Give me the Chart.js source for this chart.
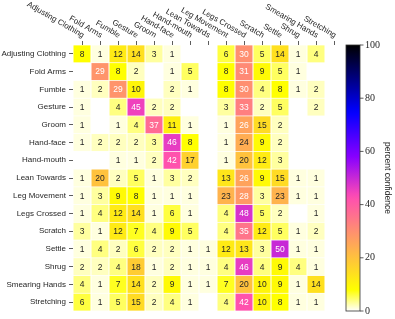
<!DOCTYPE html>
<html>
<head>
<meta charset="utf-8">
<script src="https://cdn.jsdelivr.net/npm/chart.js@4"></script>
<style>
  html, body { margin: 0; padding: 0; background: #fff; }
  #wrap { width: 395px; height: 319px; }
</style>
</head>
<body>
<div id="wrap"><canvas id="cm"></canvas></div>
<script>
// class names (rows = true label, columns = predicted label)
const classes = [
  "Adjusting Clothing", "Fold Arms", "Fumble", "Gesture", "Groom",
  "Hand-face", "Hand-mouth", "Lean Towards", "Leg Movement", "Legs Crossed",
  "Scratch", "Settle", "Shrug", "Smearing Hands", "Stretching",
];

// percent confidence per row, 0 = empty cell
const adjustingClothing = [8, 1, 12, 14, 3, 1, 0, 0, 6, 30, 5, 14, 1, 4, 0];
const foldArms          = [0, 29, 8, 2, 0, 1, 5, 0, 8, 31, 9, 5, 1, 0, 0];
const fumble            = [1, 2, 29, 10, 0, 2, 1, 0, 8, 30, 4, 8, 1, 2, 0];
const gesture           = [1, 0, 4, 45, 2, 2, 0, 0, 3, 33, 2, 5, 0, 2, 0];
const groom             = [1, 0, 1, 4, 37, 11, 1, 0, 1, 26, 15, 2, 0, 0, 0];
const handFace          = [1, 2, 2, 2, 3, 46, 8, 0, 1, 24, 9, 2, 0, 0, 0];
const handMouth         = [0, 0, 1, 1, 2, 42, 17, 0, 1, 20, 12, 3, 0, 0, 0];
const leanTowards       = [1, 20, 2, 5, 1, 3, 2, 0, 13, 26, 9, 15, 1, 1, 0];
const legMovement       = [1, 3, 9, 8, 1, 1, 1, 0, 23, 28, 3, 23, 1, 1, 0];
const legsCrossed       = [1, 4, 12, 14, 1, 6, 1, 0, 4, 48, 5, 2, 0, 1, 0];
const scratch           = [3, 1, 12, 7, 4, 9, 5, 0, 4, 35, 12, 5, 1, 2, 0];
const settle            = [1, 4, 2, 6, 2, 2, 1, 1, 12, 13, 3, 50, 1, 1, 0];
const shrug             = [2, 2, 4, 18, 1, 2, 1, 1, 4, 46, 4, 9, 4, 1, 0];
const smearingHands     = [4, 1, 7, 14, 2, 9, 1, 1, 7, 20, 10, 9, 1, 14, 0];
const stretching        = [6, 1, 5, 15, 2, 4, 1, 0, 4, 42, 10, 8, 1, 1, 0];

const rows = [
  adjustingClothing, foldArms, fumble, gesture, groom, handFace, handMouth,
  leanTowards, legMovement, legsCrossed, scratch, settle, shrug, smearingHands, stretching,
];

const cbTicks = [0, 20, 40, 60, 80, 100];

const labelFont = "Liberation Sans, Arial, sans-serif";
const textDark = "#262626";

// matplotlib gnuplot2, reversed
function cmap(v) {
  const x = 1 - v / 100;
  const clip = (t) => Math.max(0, Math.min(1, t));
  const r = clip(x / 0.32 - 0.78125);
  const g = clip(2 * x - 0.84);
  const b = clip(x < 0.25 ? 4 * x : x < 0.92 ? -2 * x + 1.84 : x / 0.08 - 11.5);
  return `rgb(${Math.round(r * 255)},${Math.round(g * 255)},${Math.round(b * 255)})`;
}

// build cells (category scales want the label strings)
const cells = [];
rows.forEach((row, i) => {
  row.forEach((v, j) => {
    if (v > 0) cells.push({ x: classes[j], y: classes[i], v: v });
  });
});

function cellRadius(c) {
  const a = c.chart.chartArea;
  if (!a) return 8;
  const w = (a.right - a.left) / classes.length;
  return (w - 1) / Math.SQRT2;
}

// numbers inside cells
const cellText = {
  id: "cellText",
  afterDatasetsDraw(chart) {
    const ctx = chart.ctx;
    const meta = chart.getDatasetMeta(0);
    ctx.save();
    ctx.font = "8.5px " + labelFont;
    ctx.textAlign = "center";
    ctx.textBaseline = "middle";
    meta.data.forEach((pt, k) => {
      const v = cells[k].v;
      ctx.fillStyle = v >= 25 ? "#ffffff" : textDark;
      ctx.fillText(String(v), pt.x, pt.y + 0.5);
    });
    ctx.restore();
  },
};

// rotated column labels on top + colorbar
const extras = {
  id: "extras",
  afterDraw(chart) {
    const ctx = chart.ctx;
    const xs = chart.scales.x;
    const area = chart.chartArea;

    ctx.save();
    ctx.font = "8px " + labelFont;
    ctx.fillStyle = textDark;
    ctx.textAlign = "right";
    ctx.textBaseline = "middle";
    classes.forEach((name, i) => {
      const px = xs.getPixelForTick(i);
      ctx.save();
      ctx.translate(px + 1.5, area.top - 9);
      ctx.rotate((30 * Math.PI) / 180);
      ctx.fillText(name, 0, 0);
      ctx.restore();
    });
    ctx.restore();

    // colorbar
    const x0 = 346, x1 = 360;
    const top = area.top, bottom = area.bottom;
    const grad = ctx.createLinearGradient(0, bottom, 0, top);
    for (let s = 0; s <= 100; s += 2) grad.addColorStop(s / 100, cmap(s));
    ctx.save();
    ctx.fillStyle = grad;
    ctx.fillRect(x0, top, x1 - x0, bottom - top);
    ctx.strokeStyle = "#333";
    ctx.lineWidth = 0.8;
    ctx.strokeRect(x0, top, x1 - x0, bottom - top);

    ctx.font = "10px Liberation Serif, serif";
    ctx.fillStyle = textDark;
    ctx.textAlign = "left";
    ctx.textBaseline = "middle";
    cbTicks.forEach((t) => {
      const py = bottom - (t / 100) * (bottom - top);
      ctx.beginPath();
      ctx.moveTo(x1, py);
      ctx.lineTo(x1 + 3.5, py);
      ctx.stroke();
      ctx.fillText(String(t), x1 + 5, py);
    });

    ctx.font = "8.5px " + labelFont;
    ctx.textAlign = "center";
    ctx.translate(387, (top + bottom) / 2);
    ctx.rotate(Math.PI / 2);
    ctx.fillText("percent confidence", 0, 0);
    ctx.restore();
  },
};

const ctx = document.getElementById("cm").getContext("2d");
new Chart(ctx, {
  type: "scatter",
  data: {
    datasets: [
      {
        data: cells,
        pointStyle: "rect",
        borderWidth: 0,
        backgroundColor: (c) => (c.raw ? cmap(c.raw.v) : "#fff"),
        pointRadius: cellRadius,
        pointHoverRadius: cellRadius,
      },
    ],
  },
  options: {
    responsive: true,
    maintainAspectRatio: false,
    animation: false,
    layout: { padding: { left: 0, right: 52, top: 0, bottom: 6 } },
    plugins: {
      legend: { display: false },
      tooltip: { enabled: false },
    },
    scales: {
      x: {
        type: "category",
        labels: classes,
        position: "top",
        offset: true,
        border: { display: false },
        grid: {
          drawOnChartArea: false,
          drawTicks: true,
          tickLength: 4,
          tickColor: "#333",
          tickWidth: 0.8,
        },
        ticks: { display: false },
        afterFit: (s) => { s.height = 45; },
      },
      y: {
        type: "category",
        labels: classes,
        offset: true,
        border: { display: false },
        grid: {
          drawOnChartArea: false,
          drawTicks: true,
          tickLength: 4,
          tickColor: "#333",
          tickWidth: 0.8,
        },
        ticks: {
          color: textDark,
          padding: 3,
          font: { family: labelFont, size: 8 },
          autoSkip: false,
        },
        afterFit: (s) => { s.width = 73; },
      },
    },
  },
  plugins: [cellText, extras],
});
</script>
</body>
</html>
